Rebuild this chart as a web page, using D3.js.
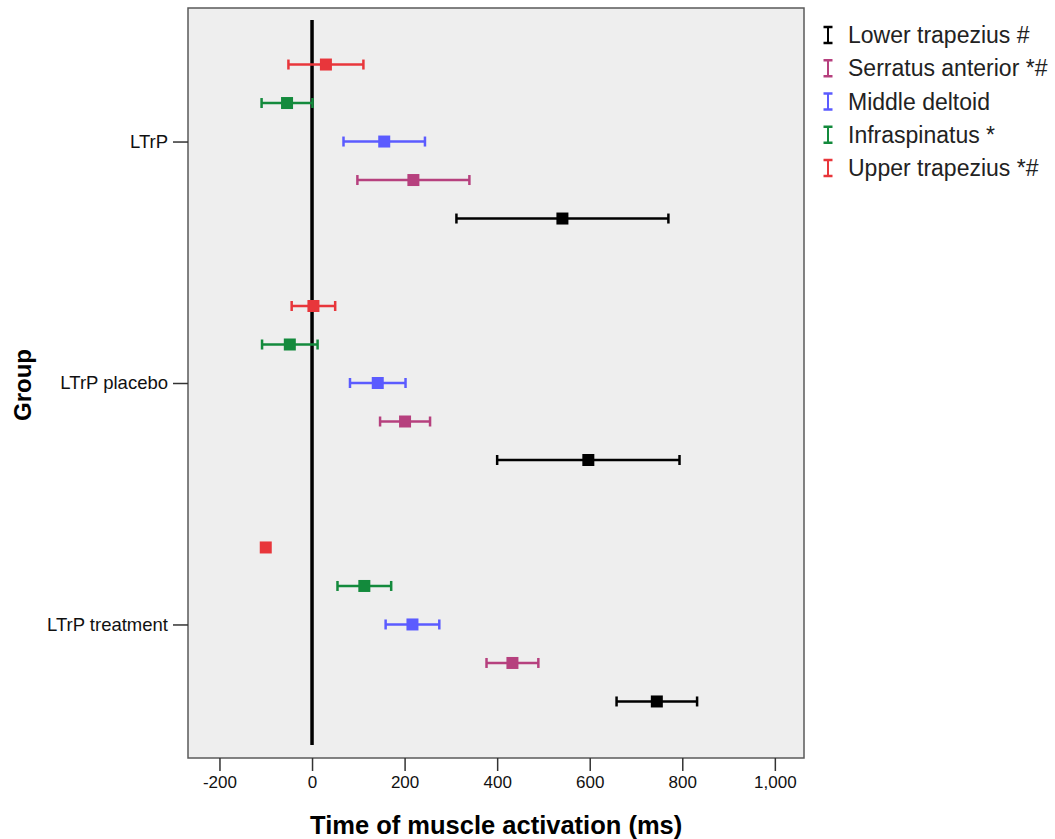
<!DOCTYPE html>
<html>
<head>
<meta charset="utf-8">
<script src="https://cdn.jsdelivr.net/npm/d3@7"></script>
<style>
  html, body { margin: 0; padding: 0; background: #ffffff; }
  svg { display: block; }
  text { font-family: "Liberation Sans", Arial, sans-serif; }
</style>
</head>
<body>
<svg id="chart" width="1055" height="839"></svg>
<script>
// ---- data ----
const groups = ["LTrP", "LTrP placebo", "LTrP treatment"];
// series in legend order
const seriesNames = ["Lower trapezius #", "Serratus anterior *#", "Middle deltoid", "Infraspinatus *", "Upper trapezius *#"];
const seriesColors = ["#000000", "#b6407e", "#5b5bff", "#138a3c", "#e8363b"];
// means (ms) per group [LTrP, placebo, treatment]
const lowerTrapMean = [541, 597, 745];
const lowerTrapErr = [229, 197, 87];
const serratusMean = [219, 201, 433];
const serratusErr = [121, 54, 56];
const midDeltoidMean = [156, 142, 217];
const midDeltoidErr = [88, 60, 58];
const infraspMean = [-54, -48, 113];
const infraspErr = [55, 60, 58];
const upperTrapMean = [30, 3, -100];
const upperTrapErr = [81, 47, 3];
const xTicks = [-200, 0, 200, 400, 600, 800, 1000];
const referenceValue = 0;

const seriesMeans = [lowerTrapMean, serratusMean, midDeltoidMean, infraspMean, upperTrapMean];
const seriesErrs = [lowerTrapErr, serratusErr, midDeltoidErr, infraspErr, upperTrapErr];

// ---- layout ----
const plot = { left: 188, right: 804, top: 8, bottom: 758 };
const svg = d3.select("#chart");

const x = d3.scaleLinear().domain([-268, 1063]).range([plot.left, plot.right]);
const yGroup = d3.scalePoint().domain(groups).range([plot.top, plot.bottom]).padding(0.553);
// within group: top to bottom order is reverse of legend
const plotOrder = seriesNames.slice().reverse();
const yInner = d3.scalePoint().domain(plotOrder).range([-77, 77]);

// background
svg.append("rect")
  .attr("x", plot.left).attr("y", plot.top)
  .attr("width", plot.right - plot.left).attr("height", plot.bottom - plot.top)
  .attr("fill", "#eeeeee").attr("stroke", "#5a5a5a").attr("stroke-width", 1.5);

// reference line
svg.append("line")
  .attr("x1", x(referenceValue)).attr("x2", x(referenceValue))
  .attr("y1", 20).attr("y2", 745)
  .attr("stroke", "#000").attr("stroke-width", 3.5);

// x axis
const fmt = d3.format(",");
const xAxis = d3.axisBottom(x).tickValues(xTicks).tickSize(13).tickPadding(5)
  .tickFormat(d => fmt(d).replace("\u2212", "-"));
const gx = svg.append("g").attr("transform", `translate(0,${plot.bottom})`).call(xAxis);
gx.select(".domain").remove();
gx.selectAll(".tick line").attr("stroke", "#333").attr("stroke-width", 1.5);
gx.selectAll(".tick text").attr("font-size", 17).attr("fill", "#111")
  .attr("font-family", "'Liberation Sans', Arial, sans-serif");

// y axis
const yAxis = d3.axisLeft(yGroup).tickSize(15).tickPadding(5);
const gy = svg.append("g").attr("transform", `translate(${plot.left},0)`).call(yAxis);
gy.select(".domain").remove();
gy.selectAll(".tick line").attr("stroke", "#333").attr("stroke-width", 1.5);
gy.selectAll(".tick text").attr("font-size", 18.5).attr("fill", "#111")
  .attr("font-family", "'Liberation Sans', Arial, sans-serif");

// axis titles
svg.append("text")
  .attr("x", (x(-200) + x(1000)) / 2 - 1).attr("y", 834)
  .attr("text-anchor", "middle").attr("font-size", 25.5).attr("font-weight", "bold")
  .attr("fill", "#000")
  .text("Time of muscle activation (ms)");
svg.append("text")
  .attr("transform", `translate(31,${(plot.top + plot.bottom) / 2 + 2}) rotate(-90)`)
  .attr("text-anchor", "middle").attr("font-size", 24).attr("font-weight", "bold")
  .attr("fill", "#000")
  .text("Group");

// data points
const points = [];
seriesNames.forEach((s, si) => {
  groups.forEach((g, gi) => {
    points.push({ series: s, color: seriesColors[si], group: g, mean: seriesMeans[si][gi], err: seriesErrs[si][gi] });
  });
});

const capH = 10, markerS = 12;
const pg = svg.append("g");
points.forEach(p => {
  const cy = yGroup(p.group) + yInner(p.series);
  const lo = x(p.mean - p.err), hi = x(p.mean + p.err);
  const g = pg.append("g");
  g.append("line").attr("x1", lo).attr("x2", hi).attr("y1", cy).attr("y2", cy)
    .attr("stroke", p.color).attr("stroke-width", 2.5);
  [lo, hi].forEach(cx => {
    g.append("line").attr("x1", cx).attr("x2", cx).attr("y1", cy - capH / 2).attr("y2", cy + capH / 2)
      .attr("stroke", p.color).attr("stroke-width", 2.5);
  });
  g.append("rect").attr("x", x(p.mean) - markerS / 2).attr("y", cy - markerS / 2)
    .attr("width", markerS).attr("height", markerS).attr("fill", p.color);
});

// legend
const leg = svg.append("g");
const legY = d3.scalePoint().domain(seriesNames).range([35, 168]);
seriesNames.forEach((s, i) => {
  const cy = legY(s);
  const c = seriesColors[i];
  const ix = 828;
  leg.append("line").attr("x1", ix).attr("x2", ix).attr("y1", cy - 8).attr("y2", cy + 8)
    .attr("stroke", c).attr("stroke-width", 2);
  leg.append("line").attr("x1", ix - 4.5).attr("x2", ix + 4.5).attr("y1", cy - 8).attr("y2", cy - 8)
    .attr("stroke", c).attr("stroke-width", 2.5);
  leg.append("line").attr("x1", ix - 4.5).attr("x2", ix + 4.5).attr("y1", cy + 8).attr("y2", cy + 8)
    .attr("stroke", c).attr("stroke-width", 2.5);
  leg.append("text").attr("x", 848).attr("y", cy + 8)
    .attr("font-size", 23).attr("fill", "#222").text(s);
});
</script>
</body>
</html>
